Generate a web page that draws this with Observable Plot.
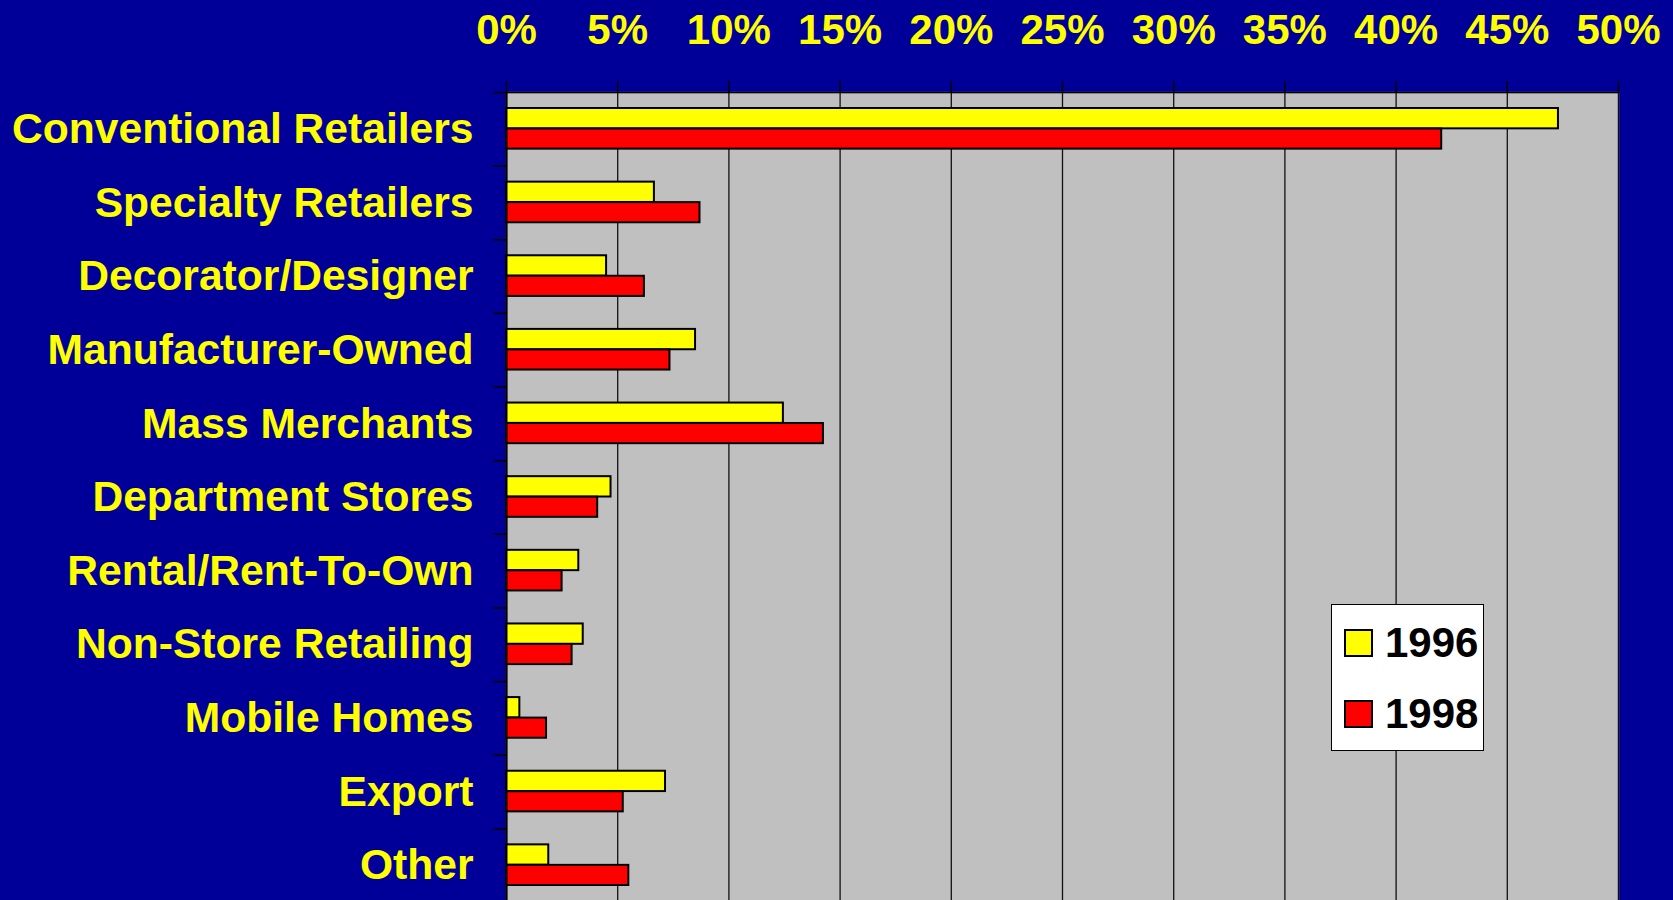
<!DOCTYPE html>
<html>
<head>
<meta charset="utf-8">
<script src="https://cdn.jsdelivr.net/npm/d3@7"></script>
<script src="https://cdn.jsdelivr.net/npm/@observablehq/plot@0.6"></script>
<style>
  html, body { margin: 0; padding: 0; background: #000099; overflow: hidden; }
  #wrap { position: relative; width: 1673px; height: 900px; overflow: hidden; }
  #legend { position: absolute; left: 1331px; top: 604px; width: 151px; height: 145px;
    background: #ffffff; border: 1.5px solid #000; font-family: "Liberation Sans", Arial, sans-serif;
    font-weight: bold; font-size: 42px; color: #000; }
  .item { position: absolute; left: 12px; display: flex; align-items: center; height: 40px; }
  .sw { width: 25px; height: 24px; border: 2px solid #000; margin-right: 12px; }
</style>
</head>
<body>
<div id="wrap"></div>
<script>
const categories = ["Conventional Retailers", "Specialty Retailers", "Decorator/Designer", "Manufacturer-Owned",
  "Mass Merchants", "Department Stores", "Rental/Rent-To-Own", "Non-Store Retailing", "Mobile Homes", "Export", "Other"];
const years = ["1996", "1998"];
const colors = ["#ffff00", "#ff0000"];
const values1996 = [47.3, 6.65, 4.5, 8.5, 12.45, 4.7, 3.25, 3.45, 0.6, 7.15, 1.9];
const values1998 = [42.05, 8.7, 6.2, 7.35, 14.25, 4.1, 2.5, 2.95, 1.8, 5.25, 5.5];
const xTicks = [0, 5, 10, 15, 20, 25, 30, 35, 40, 45, 50];

const data = categories.flatMap((c, i) => [
  {category: c, year: years[0], value: values1996[i]},
  {category: c, year: years[1], value: values1998[i]}
]);

const W = 1673, H = 902, mTop = 92, mBottom = 0, mLeft = 506, mRight = 55;
const step = (H - mTop - mBottom) / categories.length;
const font = '"Liberation Sans", Arial, sans-serif';

const chart = Plot.plot({
  width: W, height: H,
  marginTop: mTop, marginBottom: mBottom, marginLeft: mLeft, marginRight: mRight,
  style: {background: "transparent", fontFamily: font, fontWeight: "bold", overflow: "visible"},
  x: {domain: [0, 50], ticks: xTicks, label: null},
  y: {domain: categories, padding: 0, round: false, label: null},
  color: {domain: years, range: colors},
  marks: [
    Plot.frame({fill: "#c0c0c0", stroke: "#808080", strokeWidth: 1.5}),
    Plot.gridX(xTicks, {stroke: "#111", strokeOpacity: 1, strokeWidth: 1.3}),
    Plot.barX(data.filter(d => d.year === years[0]), {x: "value", y: "category", fill: d => d.year,
      stroke: "#000", strokeWidth: 2, insetTop: 16, insetBottom: 37.3}),
    Plot.barX(data.filter(d => d.year === years[1]), {x: "value", y: "category", fill: d => d.year,
      stroke: "#000", strokeWidth: 2, insetTop: 36.5, insetBottom: 17}),
    Plot.ruleX([0], {stroke: "#000", strokeWidth: 2}),
    Plot.frame({anchor: "top", stroke: "#000", strokeWidth: 1.5}),
    Plot.axisX({anchor: "top", ticks: xTicks, tickSize: 12, tickPadding: 37, tickFormat: d => d + "%",
      fontSize: 42, fontWeight: "bold", fill: "#ffff00", stroke: "#000", strokeWidth: 1.5, label: null}),
    Plot.axisY({anchor: "left", tickSize: 13, tickFormat: () => "", stroke: "#000", strokeWidth: 1.5,
      dy: -step / 2, label: null}),
    Plot.axisY({anchor: "left", tickSize: 0, tickPadding: 33, fontSize: 42.6, fontWeight: "bold",
      fill: "#ffff00", label: null})
  ]
});

const wrap = document.getElementById("wrap");
wrap.appendChild(chart);

const legend = document.createElement("div");
legend.id = "legend";
years.forEach((y, i) => {
  const item = document.createElement("div");
  item.className = "item";
  item.style.top = (18 + i * 71) + "px";
  const sw = document.createElement("div");
  sw.className = "sw";
  sw.style.background = chart.scale("color").apply(y);
  const t = document.createElement("span");
  t.textContent = y;
  item.appendChild(sw);
  item.appendChild(t);
  legend.appendChild(item);
});
wrap.appendChild(legend);
</script>
</body>
</html>
